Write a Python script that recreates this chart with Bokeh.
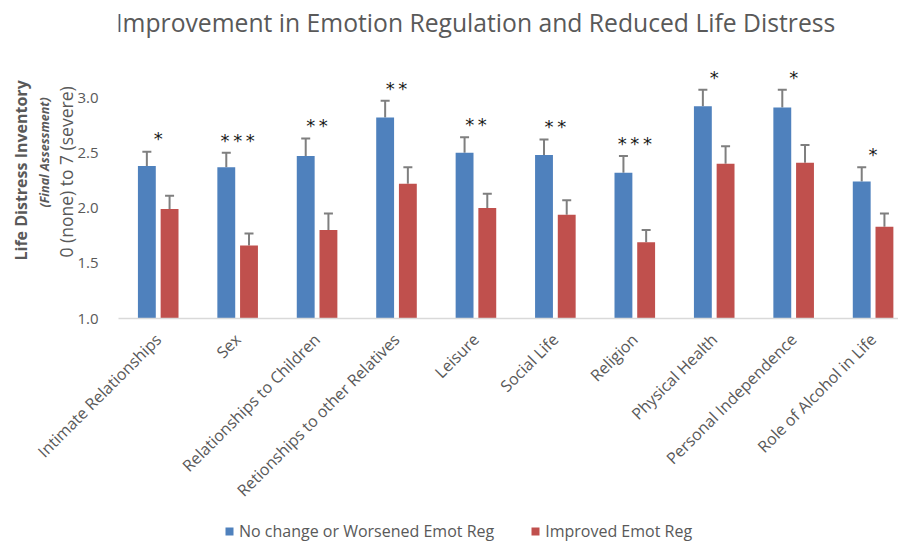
import math
from bokeh.plotting import figure
from bokeh.layouts import column
from bokeh.models import (ColumnDataSource, Range1d, FixedTicker, Whisker, TeeHead,
                          Title, Label, Legend, LegendItem, NumeralTickFormatter)
from bokeh.transform import dodge
from bokeh.core.properties import value
from bokeh.embed import file_html
from bokeh.resources import INLINE

categories = ["Intimate Relationships", "Sex", "Relationships to Children",
              "Retionships to other Relatives", "Leisure", "Social Life", "Religion",
              "Physical Health", "Personal Independence", "Role of Alcohol in Life"]
no_change = [2.38, 2.37, 2.47, 2.82, 2.50, 2.48, 2.32, 2.92, 2.91, 2.24]
no_change_err = [0.13, 0.13, 0.16, 0.15, 0.14, 0.14, 0.15, 0.15, 0.16, 0.13]
improved = [1.99, 1.66, 1.80, 2.22, 2.00, 1.94, 1.69, 2.40, 2.41, 1.83]
improved_err = [0.12, 0.11, 0.15, 0.15, 0.13, 0.13, 0.11, 0.16, 0.16, 0.12]
significance = ["*", "***", "**", "**", "**", "**", "***", "*", "*", "*"]
series_names = ["No change or Worsened Emot Reg", "Improved Emot Reg"]
title_text = "Improvement in Emotion Regulation and Reduced Life Distress"

BLUE = "#4F81BD"
RED = "#C0504D"
GRAY_TXT = "#595959"
FONT = "Open Sans"
W = 898
FRAME_LEFT = 118


def strip(h, xr, yr):
    f = figure(width=W, height=h, output_backend="svg", toolbar_location=None,
               x_range=xr, y_range=Range1d(0, yr),
               min_border=0, x_axis_type=None, y_axis_type=None)
    f.outline_line_color = None
    f.xgrid.grid_line_color = None
    f.ygrid.grid_line_color = None
    return f


# ---- title strip (its frame is aligned with the chart frame by the column layout)
HT = 60
pt = strip(HT, Range1d(FRAME_LEFT, W), HT)
pt.add_layout(Label(x=475, y=HT - 22, text=title_text, text_align="center",
                    text_baseline="middle", text_font=FONT, text_font_size="24.7px",
                    text_color=GRAY_TXT))

# ---- main chart
xs = list(range(len(categories)))
src = ColumnDataSource(dict(
    x=xs, cat=categories, b=no_change, r=improved,
    b_top=[v + e for v, e in zip(no_change, no_change_err)],
    r_top=[v + e for v, e in zip(improved, improved_err)],
    star_y=[v + e + 0.115 for v, e in zip(no_change, no_change_err)],
    sig=["\u2009".join(s) for s in significance],
))

H1 = 459
p = figure(width=W, height=H1, output_backend="svg", toolbar_location=None,
           x_range=Range1d(-0.5, 9.32), y_range=Range1d(1.0, 3.335),
           min_border_left=FRAME_LEFT, min_border_right=0, min_border_top=0,
           min_border_bottom=H1 - 258)
p.outline_line_color = None
p.xgrid.grid_line_color = None
p.ygrid.grid_line_color = None

bw = 0.225
off = 0.143
p.vbar(x=dodge("x", -off), top="b", bottom=1.0, width=bw, source=src,
       fill_color=BLUE, line_color=None)
p.vbar(x=dodge("x", off), top="r", bottom=1.0, width=bw, source=src,
       fill_color=RED, line_color=None)

ERR = "#7F7F7F"
for base, lo, hi in [(dodge("x", -off), "b", "b_top"), (dodge("x", off), "r", "r_top")]:
    w = Whisker(base=base, lower=lo, upper=hi, source=src, dimension="height",
                line_color=ERR, line_width=2, lower_head=None,
                upper_head=TeeHead(size=9, line_color=ERR, line_width=2))
    p.add_layout(w)

p.text(x="x", y="star_y", text="sig", source=src, text_align="center",
       text_baseline="middle", text_font=value("DejaVu Sans"),
       text_font_size="18px", text_color="#1a1a1a")

p.xaxis.ticker = FixedTicker(ticks=xs)
p.xaxis.major_label_overrides = {i: c for i, c in enumerate(categories)}
p.xaxis.major_label_orientation = math.pi / 4
p.xaxis.major_tick_line_color = None
p.xaxis.minor_tick_line_color = None
p.xaxis.axis_line_color = "#D9D9D9"
p.xaxis.axis_line_width = 1.5
p.xaxis.major_label_text_font = FONT
p.xaxis.major_label_text_font_size = "16px"
p.xaxis.major_label_text_color = GRAY_TXT
p.xaxis.major_label_standoff = 12

p.yaxis.ticker = FixedTicker(ticks=[1.0, 1.5, 2.0, 2.5, 3.0])
p.yaxis.formatter = NumeralTickFormatter(format="0.0")
p.yaxis.axis_line_color = None
p.yaxis.major_tick_line_color = None
p.yaxis.minor_tick_line_color = None
p.yaxis.major_label_text_font = FONT
p.yaxis.major_label_text_font_size = "15px"
p.yaxis.major_label_text_color = GRAY_TXT
p.yaxis.major_label_standoff = 14

p.add_layout(Title(text="0 (none) to 7 (severe)", align="left", offset=61, standoff=-6,
                   text_font=FONT, text_font_size="17.5px", text_font_style="normal",
                   text_color=GRAY_TXT), "left")
p.add_layout(Title(text="(Final Assessment)", align="left", offset=111, standoff=4,
                   text_font=FONT, text_font_size="12.5px", text_font_style="bold italic",
                   text_color=GRAY_TXT), "left")
p.add_layout(Title(text="Life Distress Inventory", align="left", offset=58, standoff=0,
                   text_font=FONT, text_font_size="16px", text_font_style="bold",
                   text_color=GRAY_TXT), "left")

# ---- legend strip (dummy renderers lie outside the strip's ranges)
H2 = 543 - HT - H1
pl = strip(H2, Range1d(0, W), 1)
lb = pl.vbar(x=[-50], top=[-5], bottom=[-6], width=1, fill_color=BLUE, line_color=None)
lr = pl.vbar(x=[-50], top=[-5], bottom=[-6], width=1, fill_color=RED, line_color=None)
legend = Legend(items=[LegendItem(label=series_names[0], renderers=[lb]),
                       LegendItem(label=series_names[1], renderers=[lr])],
                location=(106, 1), orientation="horizontal",
                label_text_font=FONT, label_text_font_size="16px",
                label_text_color=GRAY_TXT, glyph_width=10, glyph_height=10,
                spacing=36, border_line_color=None, background_fill_alpha=0,
                padding=0, margin=0, label_standoff=5)
pl.add_layout(legend, "center")

open("out.html", "w").write(file_html(column(pt, p, pl, spacing=0), INLINE))
